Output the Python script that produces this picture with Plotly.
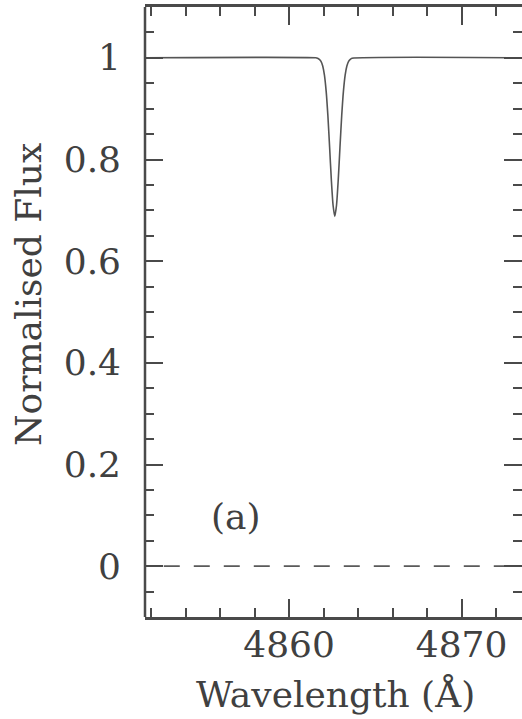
import plotly.graph_objects as go

# Spectrum (wavelength in Angstrom, normalised flux)
wavelength = [4851.0, 4861.55, 4861.65, 4861.75, 4861.85, 4861.95, 4862.05, 4862.15,
              4862.25, 4862.35, 4862.45, 4862.55, 4862.65, 4862.75, 4862.85, 4862.95,
              4863.05, 4863.15, 4863.25, 4863.35, 4863.45, 4863.55, 4863.65, 4874.0]
flux = [1.000, 1.000, 0.999, 0.997, 0.993, 0.984, 0.966, 0.934,
        0.886, 0.824, 0.760, 0.710, 0.688, 0.710, 0.760, 0.824,
        0.886, 0.934, 0.966, 0.984, 0.993, 0.997, 0.999, 1.000]

zero_x = [4851.0, 4874.0]
zero_y = [0.0, 0.0]

x_range = [4851.65, 4873.5]
y_range = [-0.1, 1.1]
x_ticks = [4860, 4870]
y_ticks = [0, 0.2, 0.4, 0.6, 0.8, 1]
y_ticktext = ["0", "0.2", "0.4", "0.6", "0.8", "1"]

panel_label = "(a)"
x_title = "Wavelength (Å)"
y_title = "Normalised Flux"

FONT = "DejaVu Serif"
TXT = "#404040"
AX = "#4a4a4a"
FS = 36

fig = go.Figure()
fig.add_trace(go.Scatter(x=zero_x, y=zero_y, mode="lines",
                         line=dict(color="#5a5a5a", width=1.6, dash="16px,14px"),
                         hoverinfo="skip", showlegend=False))
fig.add_trace(go.Scatter(x=wavelength, y=flux, mode="lines",
                         line=dict(color="#555555", width=1.6, shape="spline", smoothing=0.6),
                         showlegend=False))

fig.add_annotation(x=4856.95, y=0.098, text=panel_label, showarrow=False,
                   font=dict(family=FONT, size=FS, color=TXT))

fig.add_annotation(xref="paper", yref="paper", x=(335 - 145) / 377, y=(617 - 694) / 610,
                   text=x_title, showarrow=False, xanchor="center", yanchor="middle",
                   font=dict(family=FONT, size=FS, color=TXT))
fig.add_annotation(xref="paper", yref="paper", x=(28 - 145) / 377, y=(617 - 295) / 610,
                   text=y_title, showarrow=False, textangle=-90, xanchor="center", yanchor="middle",
                   font=dict(family=FONT, size=FS, color=TXT))

fig.add_shape(type="line", xref="paper", yref="paper", x0=0, x1=0, y0=0, y1=1,
              line=dict(color=AX, width=2.5))

fig.update_xaxes(range=x_range, tickvals=x_ticks, ticktext=[str(v) for v in x_ticks],
                 showline=True, linecolor=AX, linewidth=2.5, mirror="allticks",
                 ticks="inside", ticklen=18, tickwidth=2, tickcolor=AX,
                 minor=dict(dtick=2, tick0=4860, ticks="inside", ticklen=9, tickwidth=2, tickcolor=AX),
                 showgrid=False, zeroline=False,
                 tickfont=dict(family=FONT, size=FS, color=TXT),
                 ticklabelstandoff=-6)
fig.update_yaxes(range=y_range, tickvals=y_ticks, ticktext=y_ticktext,
                 showline=False, mirror="allticks",
                 ticks="inside", ticklen=18, tickwidth=2, tickcolor=AX,
                 minor=dict(dtick=0.05, tick0=0, ticks="inside", ticklen=9, tickwidth=2, tickcolor=AX),
                 showgrid=False, zeroline=False,
                 tickfont=dict(family=FONT, size=FS, color=TXT),
                 ticklabelstandoff=23)

fig.update_layout(width=522, height=719, autosize=False,
                  margin=dict(l=145, r=0, t=7, b=102),
                  paper_bgcolor="white", plot_bgcolor="white")

fig.write_html("out.html")
